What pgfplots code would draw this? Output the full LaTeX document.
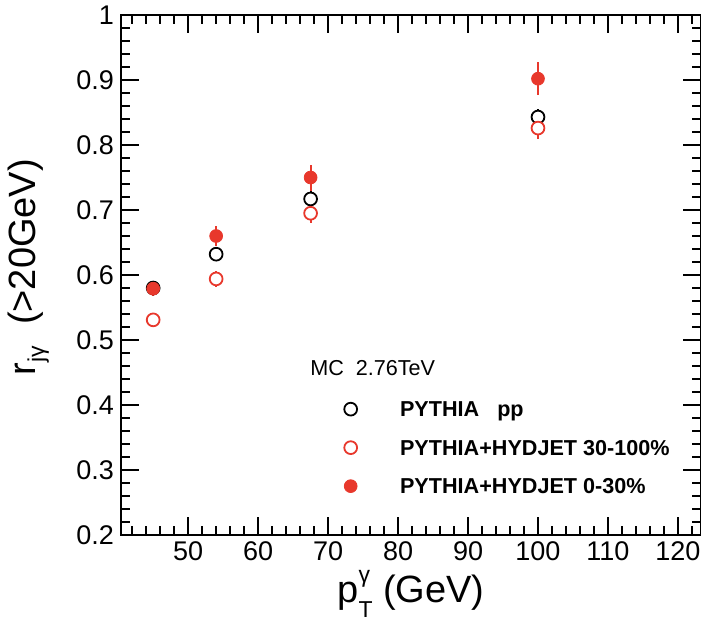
\documentclass[border=0pt]{standalone}
\usepackage{pgfplots}
\pgfplotsset{compat=1.18}
\usepackage{fontspec}
\setmainfont{Liberation Sans}
\definecolor{rootred}{RGB}{232,56,44}

\pgfplotstableread{
x y e
45 0.580 0.008
54 0.632 0.010
67.5 0.717 0.012
100 0.843 0.012
}\pp
\pgfplotstableread{
x y e
45 0.531 0.008
54 0.594 0.012
67.5 0.695 0.015
100 0.826 0.016
}\periph
\pgfplotstableread{
x y e
45 0.579 0.012
54 0.660 0.016
67.5 0.750 0.020
100 0.902 0.025
}\central

\begin{document}
\begin{tikzpicture}
\begin{axis}[
  scale only axis, width=290pt, height=260pt,
  xmin=40.4, xmax=123.3, ymin=0.2, ymax=1,
  xtick={50,60,...,120}, minor xtick={42,44,...,122},
  ytick={0.2,0.3,0.4,0.5,0.6,0.7,0.8,0.9,1},
  yticklabels={0.2,0.3,0.4,0.5,0.6,0.7,0.8,0.9,1},
  minor ytick={0.22,0.24,...,0.99},
  tick align=inside, major tick length=9pt, minor tick length=4.5pt,
  axis line style={line width=0.75pt},
  every tick/.style={black, line width=0.75pt},
  tick label style={font=\fontsize{13.5}{15}\selectfont},
  /pgf/number format/assume math mode=true,
  xticklabel style={/pgf/number format/.cd, fixed},
  xlabel={p\makebox[0pt][l]{\raisebox{1.0ex}{\fontsize{11.5}{13}\selectfont γ}}\raisebox{-0.75ex}{\fontsize{11.5}{13}\selectfont T}\ (GeV)},
  xlabel style={font=\fontsize{19}{21}\selectfont, at={(axis description cs:0.5,-0.129)}, anchor=base},
  ylabel={r\raisebox{-0.45ex}{\fontsize{11.5}{13}\selectfont jγ}\ \ (>20GeV)},
  ylabel style={font=\fontsize{19}{21}\selectfont, at={(axis description cs:-0.16,0.515)}, anchor=center},
  legend style={at={(axis cs:71.4,0.43)}, anchor=north west, draw=none, fill=none,
    font=\fontsize{10.8}{12}\selectfont\bfseries, row sep=0pt, column sep=21.5pt,
    nodes={inner sep=0pt, text height=7.7pt, text depth=0pt, minimum height=19.25pt}},
  legend cell align=left,
]
% error bars first, so that open markers sit on top of them
\addplot[forget plot, mark=none, draw=none,
  error bars/.cd, y dir=both, y explicit, error mark=none,
  error bar style={draw=black, line width=1pt}]
  table[x=x, y=y, y error=e] {\pp};
\addplot[forget plot, mark=none, draw=none,
  error bars/.cd, y dir=both, y explicit, error mark=none,
  error bar style={draw=rootred, line width=1pt}]
  table[x=x, y=y, y error=e] {\periph};
\addplot[only marks, mark=*, mark size=3.2pt, mark options={draw=black, fill=white, line width=0.9pt}]
  table[x=x, y=y] {\pp};
\addlegendentry{PYTHIA\ \ \ pp}
\addplot[only marks, mark=*, mark size=3.2pt, mark options={draw=rootred, fill=white, line width=0.9pt}]
  table[x=x, y=y] {\periph};
\addlegendentry{PYTHIA+HYDJET 30-100\%}
\addplot[only marks, rootred, mark=*, mark size=3.2pt, mark options={fill=rootred},
  error bars/.cd, y dir=both, y explicit, error mark=none,
  error bar style={line width=1pt}]
  table[x=x, y=y, y error=e] {\central};
\addlegendentry{PYTHIA+HYDJET 0-30\%}
\node[anchor=base west, font=\fontsize{10.8}{12}\selectfont, inner sep=0pt] at (axis cs:67.4,0.446) {MC\ \ 2.76TeV};
\end{axis}
\pgfresetboundingbox
\path[use as bounding box] ([xshift=-60.5pt,yshift=-43.5pt]current axis.south west) rectangle ([yshift=7.5pt]current axis.north east);
\end{tikzpicture}
\end{document}
